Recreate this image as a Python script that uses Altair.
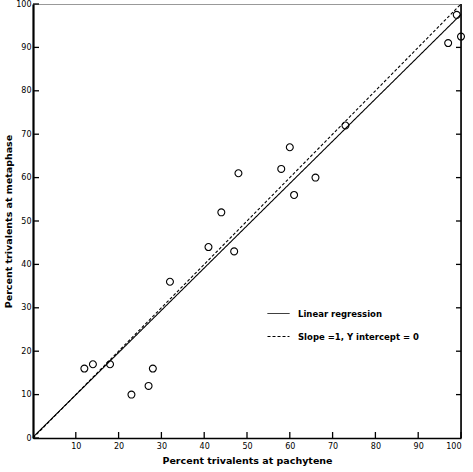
import altair as alt
import pandas as pd

# ---- data ----
pachytene = [12, 14, 18, 23, 27, 28, 32, 41, 44, 47, 48, 58, 60, 61, 66, 73, 97, 99, 100]
metaphase = [16, 17, 17, 10, 12, 16, 36, 44, 52, 43, 61, 62, 67, 56, 60, 72, 91, 97.5, 92.5]

series_names = ["Linear regression", "Slope =1, Y intercept = 0"]
line_x = [0, 100, 0, 100]
line_y = [0.2, 97.6, 0, 100]
line_series = [series_names[0], series_names[0], series_names[1], series_names[1]]

x_ticks = [10, 20, 30, 40, 50, 60, 70, 80, 90, 100]
y_ticks = [0, 10, 20, 30, 40, 50, 60, 70, 80, 90, 100]
right_ticks = [10, 20, 30, 40, 50, 60, 70, 80, 90]

W, H = 428, 434
FONT = "DejaVu Sans"

pts = pd.DataFrame({"x": pachytene, "y": metaphase})
lines = pd.DataFrame({"x": line_x, "y": line_y, "s": line_series})
xt = pd.DataFrame({"v": x_ticks})
yt = pd.DataFrame({"v": y_ticks})
rt = pd.DataFrame({"v": right_ticks})
rb = pd.DataFrame({"v": [100]})

xs = alt.Scale(domain=[0, 100], nice=False, zero=False)
ys = alt.Scale(domain=[0, 100], nice=False, zero=False)

x_axis = alt.Axis(values=x_ticks, tickSize=0, labelPadding=4, grid=False,
                  domainColor="black", domainWidth=1.6,
                  title="Percent trivalents at pachytene", titlePadding=5,
                  titleFontWeight="bold", titleFontSize=9.5, labelFontSize=8)
y_axis = alt.Axis(values=y_ticks, tickSize=0, labelPadding=2, grid=False,
                  domainColor="black", domainWidth=2.2,
                  title="Percent trivalents at metaphase", titlePadding=2,
                  titleFontWeight="bold", titleFontSize=9.5, labelFontSize=8)

points = alt.Chart(pts).mark_point(shape="circle", filled=False, color="black",
                                   size=48, strokeWidth=1.1, opacity=1).encode(
    x=alt.X("x:Q", scale=xs, axis=x_axis),
    y=alt.Y("y:Q", scale=ys, axis=y_axis),
)

line_layer = alt.Chart(lines).mark_line(color="black", strokeWidth=1.1).encode(
    x=alt.X("x:Q", scale=xs, axis=x_axis),
    y=alt.Y("y:Q", scale=ys, axis=y_axis),
    strokeDash=alt.StrokeDash(
        "s:N",
        scale=alt.Scale(domain=series_names, range=[[1, 0], [3, 2]]),
        legend=alt.Legend(orient="none", legendX=234, legendY=298, title=None,
                          symbolType="stroke", symbolSize=484, symbolStrokeWidth=1,
                          symbolStrokeColor="black", labelFont=FONT, labelFontSize=8.5,
                          labelFontWeight="bold", labelOffset=8, rowPadding=7,
                          labelColor="black"),
    ),
    detail="s:N",
)

x_tick_marks = alt.Chart(xt).mark_rule(color="black", strokeWidth=1.3).encode(
    x=alt.X("v:Q", scale=xs, axis=x_axis), y=alt.value(H), y2=alt.value(H - 6))
y_tick_marks = alt.Chart(yt).mark_rule(color="black", strokeWidth=1.3).encode(
    y=alt.Y("v:Q", scale=ys, axis=y_axis), x=alt.value(0), x2=alt.value(6))
r_tick_marks = alt.Chart(rt).mark_rule(color="black", strokeWidth=1.3).encode(
    y=alt.Y("v:Q", scale=ys, axis=y_axis), x=alt.value(W - 5), x2=alt.value(W))
right_border = alt.Chart(rb).mark_rule(color="black", strokeWidth=1.6).encode(
    x=alt.X("v:Q", scale=xs, axis=x_axis))

chart = alt.layer(
    points, line_layer, x_tick_marks, y_tick_marks, r_tick_marks, right_border
).properties(
    width=W, height=H,
    padding={"left": 33, "top": 4, "right": 12, "bottom": 34},
    autosize="none",
    background="white",
).configure_view(
    stroke="#999999", strokeWidth=1
).configure_axis(
    labelFont=FONT, titleFont=FONT, labelColor="black", titleColor="black",
).configure_legend(
    labelFont=FONT
)

chart.save("out.html", embed_options={"renderer": "svg", "actions": False})
